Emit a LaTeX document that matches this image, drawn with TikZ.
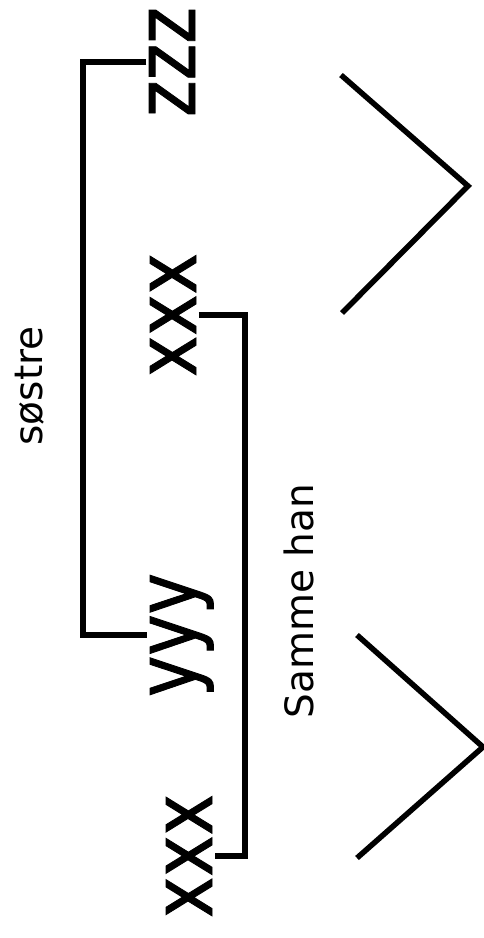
\documentclass[tikz,border=0pt]{standalone}
\usepackage{fontspec}
\setmainfont{DejaVu Sans}
\newfontfamily\bigfont[FakeStretch=0.83,FakeBold=1]{DejaVu Sans}

\begin{document}
\begin{tikzpicture}[x=1pt,y=-1pt,line width=5.5pt,
        person/.style={rotate=90,inner sep=0pt,anchor=base,
          font=\bigfont\fontsize{84}{90}\selectfont},
        relation/.style={rotate=90,inner sep=0pt,anchor=base,
          font=\fontsize{39}{44}\selectfont}]

  \useasboundingbox (0,0) rectangle (483,938);

  \node[person] (z_0) at (195,62)  {zzz};
  \node[person] (x_0) at (196,315) {xxx};
  \node[person] (y_0) at (196,635) {yyy};
  \node[person] (x_1) at (212,856) {xxx};

  \node[relation] (sis) at (42,386)  {søstre};
  \node[relation] (han) at (313,601) {Samme han};

  \coordinate (sis_line) at (83,346);
  \coordinate (han_line) at (245,585);

  \draw (z_0.north) -| (sis_line) |- (y_0.north);
  \draw (x_0.south) -| (han_line) |- (x_1.south);

  % the two brackets on the right
  \draw (341,75) -- (468,186) -- (342,313);
  \draw (357,635) -- (483,747) -- (357,858);

\end{tikzpicture}
\end{document}
